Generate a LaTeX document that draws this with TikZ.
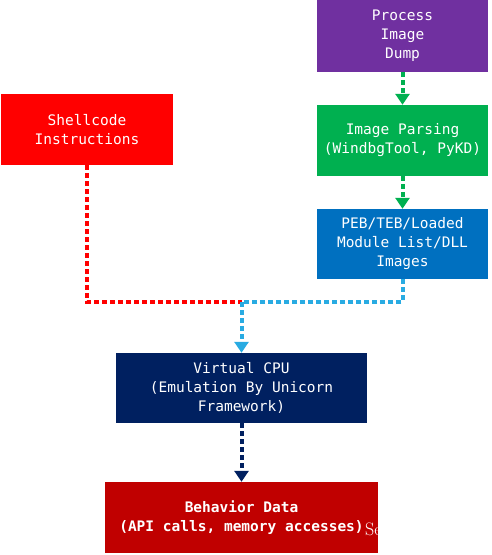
\documentclass[tikz,border=0pt]{standalone}
\usepackage{fontspec}
\setmonofont{DejaVu Sans Mono}
\usetikzlibrary{arrows.meta}
\definecolor{cpurple}{HTML}{7030A0}
\definecolor{cred}{HTML}{FF0000}
\definecolor{cgreen}{HTML}{00B050}
\definecolor{cblue}{HTML}{0070C0}
\definecolor{cnavy}{HTML}{002060}
\definecolor{cdred}{HTML}{C00000}
\definecolor{clblue}{HTML}{29ABE2}
\begin{document}
\begin{tikzpicture}[x=1pt,y=-1pt,
  box/.style={draw=none,text=white,align=center,inner sep=0pt,
    font=\ttfamily\fontsize{14.5}{19}\selectfont},
  conn/.style={line width=4pt,dash pattern=on 5pt off 3pt,-{Triangle[width=14pt,length=11pt]}},
  plain/.style={line width=4pt,dash pattern=on 5pt off 3pt}]
\useasboundingbox (0,0) rectangle (491,555);
\node[box,fill=cpurple,minimum width=171pt,minimum height=72pt] (dump) at (402.5,36) {Process\\Image\\Dump};
\node[box,fill=cred,minimum width=172pt,minimum height=71pt] (shell) at (87,129.5) {Shellcode\\Instructions};
\node[box,fill=cgreen,minimum width=171pt,minimum height=71pt] (parse) at (402.5,140.5) {Image Parsing\\(WindbgTool, PyKD)};
\node[box,fill=cblue,minimum width=171pt,minimum height=70pt] (peb) at (402.5,244) {PEB/TEB/Loaded\\Module List/DLL\\Images};
\node[box,fill=cnavy,minimum width=251pt,minimum height=70pt] (cpu) at (241.5,388) {Virtual CPU\\(Emulation By Unicorn\\Framework)};
\node[box,fill=cdred,minimum width=273pt,minimum height=71pt,font=\ttfamily\bfseries\fontsize{14.5}{19}\selectfont] (beh) at (241.5,517.5) {Behavior Data\\(API calls, memory accesses)};
\node[text=white,anchor=base west,font=\fontsize{18}{18}\selectfont,inner sep=0pt] (wm) at (365,535) {Se};
\coordinate (j) at (241.5,302);
\draw[conn,cgreen] (dump.south) -- (parse.north);
\draw[conn,cgreen] (parse.south) -- (peb.north);
\draw[plain,cred] (shell.south) |- (j);
\draw[conn,clblue] (peb.south) |- (j) -- (cpu.north);
\draw[conn,cnavy] (cpu.south) -- (beh.north);
\end{tikzpicture}
\end{document}
